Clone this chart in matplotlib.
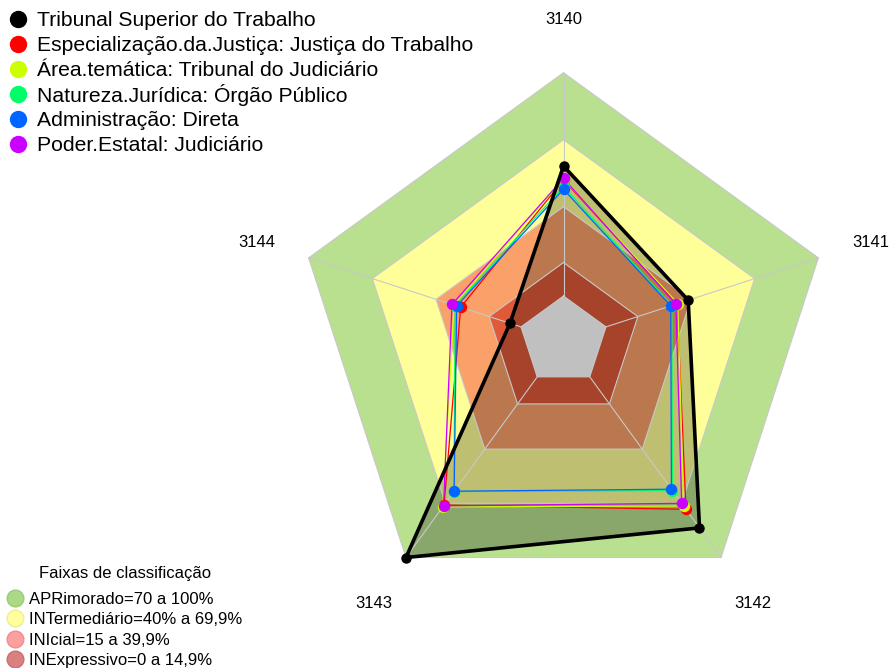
import numpy as np
import matplotlib
matplotlib.use('Agg')
import matplotlib.pyplot as plt

plt.rcParams['font.family'] = ['Liberation Sans', 'DejaVu Sans']

# ---------------- data ----------------
axis_labels = ['3140', '3141', '3142', '3143', '3144']

series_names = [
    'Tribunal Superior do Trabalho',
    'Especialização.da.Justiça: Justiça do Trabalho',
    'Área.temática: Tribunal do Judiciário',
    'Natureza.Jurídica: Órgão Público',
    'Administração: Direta',
    'Poder.Estatal: Judiciário',
]
series_colors = ['#000000', '#FF0000', '#CCFF00', '#00FF66', '#0066FF', '#CC00FF']

tst_values = [58.2, 38.7, 83.6, 100.0, 5.2]
justica_trabalho = [52.0, 33.5, 73.3, 71.0, 28.4]
tribunal_judiciario = [52.5, 33.8, 71.5, 72.0, 31.5]
orgao_publico = [49.0, 31.0, 63.0, 63.5, 31.0]
adm_direta = [47.8, 30.5, 62.2, 63.3, 30.3]
poder_judiciario = [52.7, 32.9, 70.0, 71.4, 32.5]

other_series = [justica_trabalho, tribunal_judiciario, orgao_publico,
                adm_direta, poder_judiciario]

band_levels = [100, 70, 40, 15]
band_colors = ['#B9E08F', '#FFFF99', '#FAA069', '#E05A3A']
center_level = 0
center_color = '#C0C0C0'
r_min, r_max = -20, 100

legend2_title = 'Faixas de classificação'
band_names = ['APRimorado=70 a 100%', 'INTermediário=40% a 69,9%',
              'INIcial=15 a 39,9%', 'INExpressivo=0 a 14,9%']
band_legend_face = ['#ACD985', '#FFFF9E', '#FF9E9E', '#D98080']
band_legend_edge = ['#9CCB75', '#EEEE8E', '#EE8E8E', '#C87070']

# ---------------- figure ----------------
W, H = 889, 668
fig = plt.figure(figsize=(W / 100, H / 100), dpi=100)

# overlay axes in pixel units for the legends
lax = fig.add_axes([0, 0, 1, 1])
lax.set_xlim(0, W)
lax.set_ylim(H, 0)
lax.set_axis_off()

cx, cy, R = 563.5, 340.7, 268
ax = fig.add_axes([(cx - R) / W, (H - cy - R) / H, 2 * R / W, 2 * R / H],
                  projection='polar')
ax.set_theta_offset(np.pi / 2)
ax.set_theta_direction(-1)
ax.set_ylim(r_min, r_max)
ax.set_axis_off()

n = len(axis_labels)
theta = np.arange(n) * 2 * np.pi / n
theta_c = np.append(theta, theta[0])


def closed(vals):
    v = list(vals)
    return np.array(v + [v[0]])


# bands
for lvl, col in zip(band_levels, band_colors):
    ax.fill(theta_c, [lvl] * (n + 1), color=col, lw=0, zorder=1, clip_on=False)

# black series fill
ax.fill(theta_c, closed(tst_values), color='black', alpha=0.25, lw=0,
        zorder=2, clip_on=False)

# grey center
ax.fill(theta_c, [center_level] * (n + 1), color=center_color, lw=0,
        zorder=3, clip_on=False)

# grid
grid_col = '#C8C8C8'
for lvl in band_levels + [center_level]:
    ax.plot(theta_c, [lvl] * (n + 1), color=grid_col, lw=0.8, zorder=3.5,
            clip_on=False)
for t in theta:
    ax.plot([t, t], [center_level, r_max], color=grid_col, lw=0.8,
            zorder=3.5, clip_on=False)

# colored series
for vals, col in zip(other_series, series_colors[1:]):
    ax.plot(theta_c, closed(vals), color=col, lw=0.9, zorder=4, clip_on=False)
for vals, col in zip(other_series, series_colors[1:]):
    ax.plot(theta, vals, ls='none', marker='o', markersize=7.2,
            markerfacecolor=col, markeredgecolor=col, zorder=4.5,
            clip_on=False)

# black series
ax.plot(theta_c, closed(tst_values), color='black', lw=2.6, zorder=5,
        clip_on=False)
ax.plot(theta, tst_values, ls='none', marker='o', markersize=6.5,
        color='black', zorder=5.5, clip_on=False)

# axis labels
for t, lab in zip(theta, axis_labels):
    ax.text(t, 124.5, lab, ha='center', va='center_baseline', fontsize=12,
            clip_on=False)

# ---------------- legends ----------------
# series legend (top-left)
y0, dy = 18.5, 25.0
for i, (name, col) in enumerate(zip(series_names, series_colors)):
    y = y0 + i * dy
    lax.plot([18], [y], ls='none', marker='o', markersize=11.5,
             markerfacecolor=col, markeredgecolor=col)
    lax.text(37, y, name, ha='left', va='center_baseline', fontsize=15.2)

# classification legend (bottom-left)
lax.text(125, 572, legend2_title, ha='center', va='center_baseline',
         fontsize=12)
y0, dy = 598, 20.4
for i, (name, f, e) in enumerate(zip(band_names, band_legend_face,
                                     band_legend_edge)):
    y = y0 + i * dy
    lax.plot([14.5], [y], ls='none', marker='o', markersize=12,
             markerfacecolor=f, markeredgecolor=e, markeredgewidth=1)
    lax.text(29, y, name, ha='left', va='center_baseline', fontsize=12)

fig.savefig('out.png', dpi=100)
